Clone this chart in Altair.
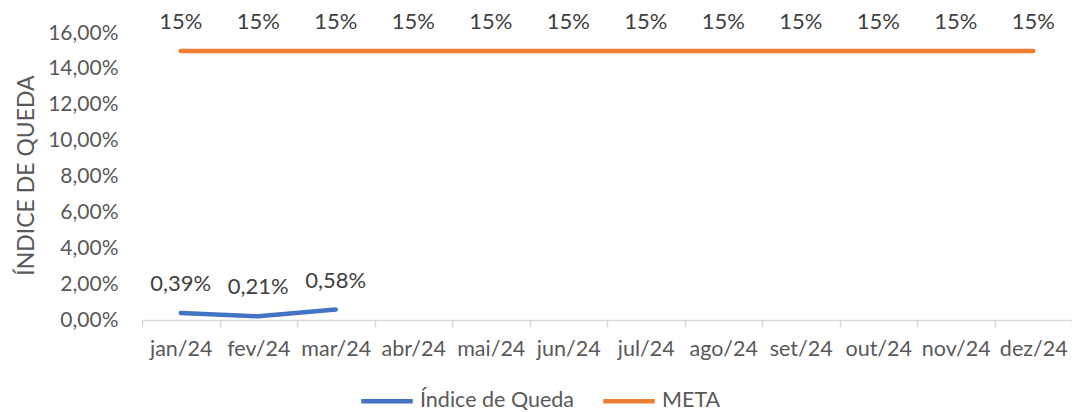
import altair as alt
import pandas as pd

meses = ["jan/24", "fev/24", "mar/24", "abr/24", "mai/24", "jun/24",
         "jul/24", "ago/24", "set/24", "out/24", "nov/24", "dez/24"]
indice_meses = ["jan/24", "fev/24", "mar/24"]
indice_valores = [0.0039, 0.0021, 0.0058]
meta_valores = [0.15] * 12
series = ["Índice de Queda", "META"]
cores = ["#4472C4", "#ED7D31"]
y_ticks = [0, 0.02, 0.04, 0.06, 0.08, 0.10, 0.12, 0.14, 0.16]

rows = []
for m, v in zip(indice_meses, indice_valores):
    rows.append({"mes": m, "serie": series[0], "valor": v,
                 "rotulo": f"{v*100:.2f}%".replace(".", ",")})
for m, v in zip(meses, meta_valores):
    rows.append({"mes": m, "serie": series[1], "valor": v,
                 "rotulo": f"{v*100:.0f}%"})
df = pd.DataFrame(rows)

FONT = "Lato"
x = alt.X("mes:N", sort=meses, title=None,
          scale=alt.Scale(domain=meses, paddingInner=0, paddingOuter=0),
          axis=alt.Axis(labelAngle=0, labelFontSize=21.5, labelColor="#595959",
                        labelFont=FONT, labelPadding=11, tickBand="extent",
                        tickSize=7, tickColor="#d9d9d9", domainColor="#d9d9d9",
                        domainWidth=1.5, tickWidth=1.5, grid=False,
                        labelOverlap=False))
y = alt.Y("valor:Q", title="ÍNDICE DE QUEDA",
          scale=alt.Scale(domain=[0, 0.16], nice=False),
          axis=alt.Axis(values=y_ticks,
                        labelExpr="replace(format(datum.value, '.2%'), '.', ',')",
                        labelFontSize=21, labelColor="#595959", labelFont=FONT,
                        labelPadding=24, ticks=False, domain=False, grid=False,
                        labelOverlap=False,
                        titleFont=FONT, titleFontSize=23, titleFontWeight="normal",
                        titleColor="#595959", titleAngle=270, titleX=-116,
                        titleY=142, titleAlign="center", titleBaseline="middle"))
color = alt.Color("serie:N", title=None,
                  scale=alt.Scale(domain=series, range=cores),
                  legend=alt.Legend(orient="none", legendX=217, legendY=340,
                                    direction="horizontal", symbolType="stroke",
                                    symbolSize=2650, symbolStrokeWidth=4.5,
                                    labelFontSize=21.5, labelFont=FONT,
                                    labelColor="#595959", labelOffset=5,
                                    columnPadding=20, padding=0))

base = alt.Chart(df)
lines = base.mark_line(strokeWidth=4.5, strokeCap="round", strokeJoin="round").encode(
    x=x, y=y, color=color, detail="serie:N")
texts = base.mark_text(dy=-29, fontSize=22, font=FONT, color="#404040",
                       baseline="middle").encode(
    x=x, y=y, text="rotulo:N")

chart = alt.layer(lines, texts).properties(
    width=930, height=287,
    autosize=alt.AutoSizeParams(type="none"),
    padding={"left": 134, "top": 25, "right": 0, "bottom": 92},
).configure_view(stroke=None).configure_axis(labelOverlap=False)

chart.save("out.html", embed_options={"renderer": "svg", "actions": False})
